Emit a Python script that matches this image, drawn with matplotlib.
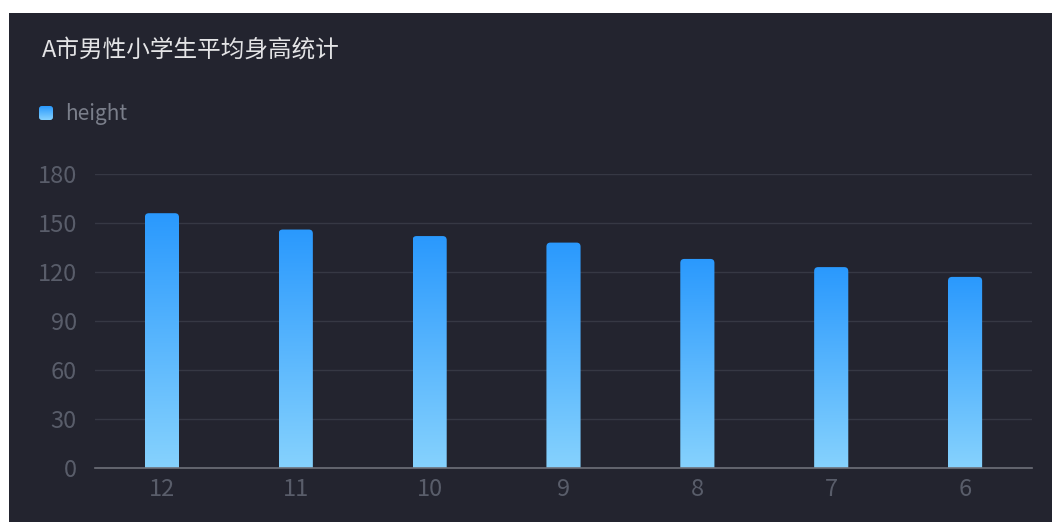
import numpy as np
import matplotlib
matplotlib.use("Agg")
import matplotlib.pyplot as plt
from matplotlib.patches import FancyBboxPatch
from matplotlib.colors import LinearSegmentedColormap

plt.rcParams['font.family'] = ['Noto Sans CJK SC', 'DejaVu Sans']

## données
ages = ['12', '11', '10', '9', '8', '7', '6']
heights = [156, 146, 142, 138, 128, 123, 117]
title = 'A市男性小学生平均身高统计'
series_name = 'height'

bg = '#23242f'
cmap = LinearSegmentedColormap.from_list('bleu', ['#86d2fe', '#2a99fd'])

W, H = 1052, 522
fig = plt.figure(figsize=(W / 100, H / 100), dpi=100)
fig.patch.set_facecolor('white')

# fond sombre
bax = fig.add_axes([9 / W, 0, 1 - 9 / W, 1 - 13 / H], zorder=-10)
bax.set_facecolor(bg)
bax.set_xticks([])
bax.set_yticks([])
for s in bax.spines.values():
    s.set_visible(False)

ax = fig.add_axes([95 / W, (H - 468) / H, (1032 - 95) / W, (468 - 174) / H])
ax.patch.set_alpha(0)

x = np.arange(len(ages))
ax.set_yticks(np.arange(0, 181, 30))
ax.set_xticks(x)
ax.set_xticklabels(ages)

ax.grid(axis='y', color='#363844', lw=1)
ax.set_axisbelow(True)
for s in ['top', 'right', 'left']:
    ax.spines[s].set_visible(False)
ax.spines['bottom'].set_color('#6e7079')
ax.spines['bottom'].set_linewidth(1.2)
ax.spines['bottom'].set_zorder(5)
ax.tick_params(axis='both', length=0, colors='#595d6a', labelsize=17)
ax.tick_params(axis='y', pad=13)
ax.tick_params(axis='x', pad=7)

# barres avec dégradé et coins arrondis
bw = 0.255
px_x = (1032 - 95) / len(ages)
px_y = (468 - 174) / 180
aspect = px_x / px_y
grad = np.linspace(0, 1, 256).reshape(-1, 1)
for xi, h in zip(x, heights):
    box = FancyBboxPatch((xi - bw / 2, -6), bw, h + 6,
                         boxstyle='round,pad=0,rounding_size=0.03',
                         mutation_aspect=aspect, facecolor='none', edgecolor='none')
    ax.add_patch(box)
    im = ax.imshow(grad, cmap=cmap, aspect='auto', origin='lower',
                   extent=(xi - bw / 2, xi + bw / 2, 0, h), zorder=3)
    im.set_clip_path(box)
ax.set_xlim(-0.5, len(ages) - 0.5)
ax.set_ylim(0, 180)

# titre
fig.text(42 / W, 1 - 50 / H, title, color='#e4e4e6', fontsize=17, va='center', ha='left')

# légende
lax = fig.add_axes([39 / W, 1 - 120 / H, 14 / W, 14 / H])
lax.axis('off')
lbox = FancyBboxPatch((0, 0), 1, 1, boxstyle='round,pad=0,rounding_size=0.2',
                      facecolor='none', edgecolor='none', transform=lax.transAxes)
lax.add_patch(lbox)
lim = lax.imshow(grad, cmap=cmap, aspect='auto', origin='lower', extent=(0, 1, 0, 1))
lim.set_clip_path(lbox)
lax.set_xlim(0, 1)
lax.set_ylim(0, 1)
fig.text(65 / W, 1 - 114 / H, series_name, color='#7a7e8a', fontsize=15, va='center', ha='left')

fig.savefig('out.png', dpi=100, facecolor=fig.get_facecolor())
